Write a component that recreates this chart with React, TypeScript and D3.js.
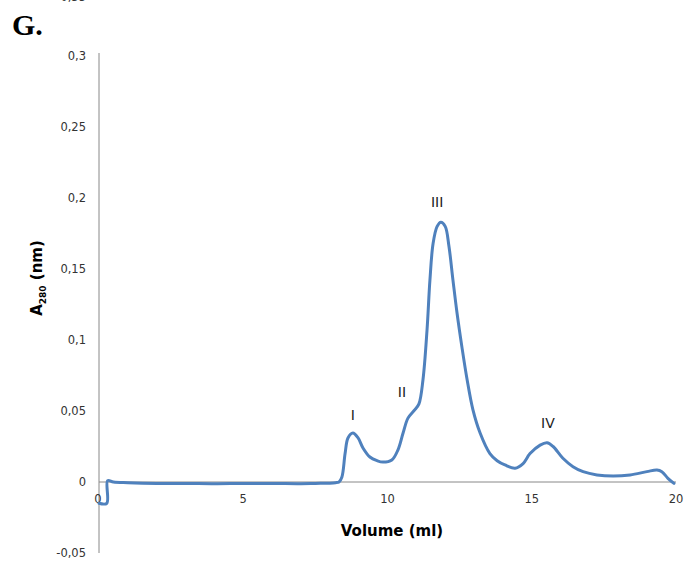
import React from "react";
import * as d3 from "d3";

const volumes = [0, 0.27, 0.3, 0.5, 1, 2, 3, 4, 5, 6, 7, 7.5, 8, 8.2, 8.32, 8.42, 8.53, 8.63, 8.8, 8.98, 9.15, 9.39, 9.64, 9.84, 10.15, 10.36, 10.54, 10.71, 10.95, 11.09, 11.23, 11.37, 11.47, 11.58, 11.72, 11.85, 12.0, 12.13, 12.27, 12.41, 12.58, 12.76, 12.96, 13.21, 13.55, 13.8, 14.07, 14.42, 14.7, 14.94, 15.29, 15.53, 15.74, 16.08, 16.43, 16.78, 17.26, 17.82, 18.41, 18.99, 19.34, 19.51, 19.72, 19.93];
const absorbance = [-0.015, -0.015, 0.001, 0.0, -0.0005, -0.001, -0.001, -0.0012, -0.001, -0.001, -0.0012, -0.001, -0.0008, -0.0005, 0.0, 0.0035, 0.02, 0.031, 0.0345, 0.031, 0.024, 0.0176, 0.015, 0.014, 0.0155, 0.0225, 0.0345, 0.045, 0.051, 0.055, 0.072, 0.107, 0.142, 0.168, 0.18, 0.183, 0.18, 0.166, 0.142, 0.119, 0.095, 0.072, 0.051, 0.0345, 0.02, 0.015, 0.012, 0.0097, 0.013, 0.02, 0.026, 0.0277, 0.025, 0.0167, 0.0108, 0.0073, 0.005, 0.0042, 0.005, 0.0073, 0.0085, 0.0073, 0.0026, -0.001];

const yTicks = [-0.05, 0, 0.05, 0.1, 0.15, 0.2, 0.25, 0.3, 0.35];
const xTicks = [0, 5, 10, 15, 20];
const peakNames = ["I", "II", "III", "IV"];
const peakX = [8.8, 10.5, 11.72, 15.56];
const peakY = [0.044, 0.06, 0.194, 0.038];

const fmt = (v: number) => String(v).replace(".", ",");

export default function App() {
  const x = d3.scaleLinear().domain([0, 20]).range([99, 676]);
  const y = d3.scaleLinear().domain([-0.05, 0.3]).range([553, 56]);
  const pts = volumes.map((v, i) => [v, absorbance[i]] as [number, number]);
  const line = d3
    .line<[number, number]>()
    .x((d) => x(d[0]))
    .y((d) => y(d[1]))
    .curve(d3.curveCatmullRom.alpha(0.5));

  const tickFont = "'DejaVu Sans', sans-serif";
  return (
    <svg
      width={685}
      height={561}
      style={{ position: "absolute", left: 0, top: 0, background: "#fff" }}
    >
      <rect width={685} height={561} fill="#fff" />
      <text x={12} y={35} fontFamily="'Liberation Serif', serif" fontWeight="bold" fontSize={30} fill="#000">
        G.
      </text>
      {/* axes */}
      <line x1={x(0)} x2={x(0)} y1={y(0.3) - 3} y2={y(-0.05)} stroke="#888" strokeWidth={1} />
      <line x1={x(0)} x2={x(20)} y1={y(0)} y2={y(0)} stroke="#888" strokeWidth={1} />
      {yTicks.map((t) => (
        <text
          key={"y" + t}
          x={86}
          y={t === 0.35 ? 1 : y(t) + 4}
          textAnchor="end"
          fontFamily={tickFont}
          fontSize={11.5}
          fill="#333"
        >
          {fmt(t)}
        </text>
      ))}
      {xTicks.map((t) => (
        <text
          key={"x" + t}
          x={x(t) - (t === 0 ? 1 : 0)}
          y={y(0) + 21}
          textAnchor="middle"
          fontFamily={tickFont}
          fontSize={11.5}
          fill="#333"
        >
          {t}
        </text>
      ))}
      <text x={392} y={536} textAnchor="middle" fontFamily={tickFont} fontWeight="bold" fontSize={15} fill="#000">
        Volume (ml)
      </text>
      <text
        transform="translate(42,278) rotate(-90)"
        textAnchor="middle"
        fontFamily={tickFont}
        fontWeight="bold"
        fontSize={15}
        fill="#000"
      >
        A<tspan fontSize={9} dy={4}>280</tspan>
        <tspan dy={-4}> (nm)</tspan>
      </text>
      <path d={line(pts) || ""} fill="none" stroke="#4F81BD" strokeWidth={3} strokeLinejoin="round" strokeLinecap="round" />
      {peakNames.map((n, i) => (
        <text
          key={n}
          x={x(peakX[i])}
          y={y(peakY[i])}
          textAnchor="middle"
          fontFamily={tickFont}
          fontSize={14}
          fill="#222"
        >
          {n}
        </text>
      ))}
    </svg>
  );
}
